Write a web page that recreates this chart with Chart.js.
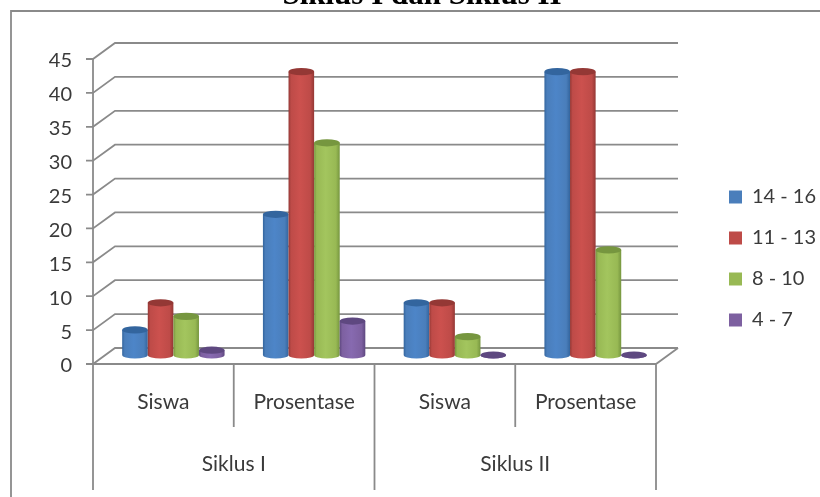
<!DOCTYPE html>
<html>
<head>
<meta charset="utf-8">
<style>
  html, body { margin: 0; padding: 0; background: #fff; }
  #wrap { position: relative; width: 820px; height: 497px; overflow: hidden; }
</style>
<script src="https://cdn.jsdelivr.net/npm/chart.js@4"></script>
</head>
<body>
<div id="wrap"><canvas id="chart" width="820" height="497"></canvas></div>
<script>
const categories = ["Siswa", "Prosentase", "Siswa", "Prosentase"];
const groups = ["Siklus I", "Siklus II"];
const seriesNames = ["14 - 16", "11 - 13", "8 - 10", "4 - 7"];
const s14to16 = [4, 21.05, 8, 42.1];
const s11to13 = [8, 42.1, 8, 42.1];
const s8to10 = [6, 31.6, 3, 15.8];
const s4to7 = [1, 5.3, 0, 0];
const yTicks = [0, 5, 10, 15, 20, 25, 30, 35, 40, 45];
const seriesColors = ["#4a7ebb", "#be4b48", "#98b954", "#7d60a0"];
const seriesDark = ["#33659e", "#943835", "#76963f", "#5e4880"];
const seriesLight = ["#4d85c8", "#cc514e", "#a3c55e", "#876ab0"];

const LINE = "#8a8a8a";
const TEXT = "#3a3a3a";
const FONT = "Lato";
// how far the back wall and the bar row sit behind the front of the floor
const wallX = 22, wallY = 16;
const barX = 10, barTopY = 7, barBaseY = 9;

const walls = {
  id: "walls",
  beforeDatasetsDraw(chart) {
    const c = chart.ctx, y = chart.scales.y, x = chart.scales.x;
    const { left, right, bottom } = chart.chartArea;
    c.save();
    c.strokeStyle = LINE;
    c.lineWidth = 1.8;
    // picture frame, only top and left show
    c.beginPath();
    c.moveTo(11, 497);
    c.lineTo(11, 11);
    c.lineTo(820, 11);
    c.stroke();
    yTicks.forEach(v => {
      const py = y.getPixelForValue(v);
      c.beginPath();
      c.moveTo(left - 7, py);
      c.lineTo(left, py);
      c.lineTo(left + wallX, py - wallY);
      c.lineTo(right + wallX, py - wallY);
      c.stroke();
    });
    c.beginPath();
    c.moveTo(left, y.getPixelForValue(45));
    c.lineTo(left, 490);
    c.moveTo(left, bottom);
    c.lineTo(right, bottom);
    c.lineTo(right + wallX, bottom - wallY);
    c.moveTo(right, bottom);
    c.lineTo(right, 490);
    const mid = (left + right) / 2;
    c.moveTo(mid, bottom);
    c.lineTo(mid, 490);
    // short separators between Siswa and Prosentase
    [0, 2].forEach(i => {
      const sx = (x.getPixelForValue(i) + x.getPixelForValue(i + 1)) / 2;
      c.moveTo(sx, bottom);
      c.lineTo(sx, 427);
    });
    c.stroke();
    c.restore();
  },
  // flat bars are replaced by the cylinders below
  beforeDatasetDraw() {
    return false;
  }
};

const cylinders = {
  id: "cylinders",
  afterDatasetsDraw(chart) {
    const c = chart.ctx;
    chart.data.datasets.forEach((ds, i) => {
      chart.getDatasetMeta(i).data.forEach(bar => {
        const w = bar.width, rx = w / 2, ry = 3.6;
        const cx = bar.x + barX, base = bar.base - barBaseY;
        const top = Math.min(bar.y - barTopY, base);
        const g = c.createLinearGradient(cx - rx, 0, cx + rx, 0);
        g.addColorStop(0, seriesDark[i]);
        g.addColorStop(0.1, seriesColors[i]);
        g.addColorStop(0.45, seriesLight[i]);
        g.addColorStop(0.85, seriesColors[i]);
        g.addColorStop(1, seriesDark[i]);
        c.save();
        c.fillStyle = g;
        c.beginPath();
        c.moveTo(cx - rx, top);
        c.lineTo(cx - rx, base);
        c.ellipse(cx, base, rx, ry, 0, Math.PI, 0, true);
        c.lineTo(cx + rx, top);
        c.closePath();
        c.fill();
        c.fillStyle = seriesDark[i];
        c.beginPath();
        c.ellipse(cx, top, rx, ry, 0, 0, Math.PI * 2);
        c.fill();
        c.restore();
      });
    });
  }
};

const legendSpot = {
  id: "legendSpot",
  afterLayout(chart) {
    chart.legend.left = 708;
    chart.legend.right = 820;
    chart.legend.top = 166;
    chart.legend.bottom = 497;
  }
};

const title = {
  id: "clippedTitle",
  afterDraw(chart) {
    const c = chart.ctx;
    c.save();
    c.font = "bold 31px 'Liberation Serif'";
    c.fillStyle = "#000";
    c.textAlign = "center";
    c.fillText("Siklus I dan Siklus II", 422, 4);
    c.restore();
  }
};

new Chart(document.getElementById("chart"), {
  type: "bar",
  data: {
    labels: categories,
    datasets: [
      { label: seriesNames[0], data: s14to16, backgroundColor: seriesColors[0] },
      { label: seriesNames[1], data: s11to13, backgroundColor: seriesColors[1] },
      { label: seriesNames[2], data: s8to10, backgroundColor: seriesColors[2] },
      { label: seriesNames[3], data: s4to7, backgroundColor: seriesColors[3] }
    ]
  },
  options: {
    responsive: false,
    animation: false,
    layout: { padding: { top: 59, right: 164, bottom: 0, left: 0 } },
    datasets: { bar: { barPercentage: 1, categoryPercentage: 0.7275 } },
    elements: { bar: { borderWidth: 0 } },
    scales: {
      x: {
        grid: { display: false },
        border: { display: false },
        ticks: { color: TEXT, font: { family: FONT, size: 21 }, padding: 18, maxRotation: 0, autoSkip: false },
        afterFit(scale) { scale.height = 78; }
      },
      x2: {
        type: "category",
        labels: groups,
        position: "bottom",
        offset: true,
        grid: { display: false },
        border: { display: false },
        ticks: { color: TEXT, font: { family: FONT, size: 21 }, padding: 2 },
        afterFit(scale) { scale.height = 55; }
      },
      y: {
        min: 0,
        max: 45,
        afterBuildTicks(scale) { scale.ticks = yTicks.map(v => ({ value: v })); },
        grid: { display: false },
        border: { display: false },
        ticks: { color: TEXT, font: { family: FONT, size: 20 }, padding: 13, labelOffset: 2 },
        afterFit(scale) { scale.width = 93; }
      }
    },
    plugins: {
      tooltip: { enabled: false },
      legend: {
        position: "chartArea",
        align: "start",
        labels: { boxWidth: 13, boxHeight: 13, padding: 21, color: TEXT, font: { family: FONT, size: 20 } }
      }
    }
  },
  plugins: [walls, cylinders, legendSpot, title]
});
</script>
</body>
</html>
